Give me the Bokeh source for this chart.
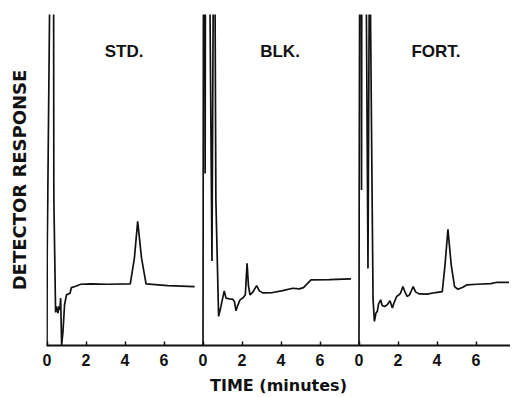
from bokeh.plotting import figure
from bokeh.models import Range1d, FixedTicker
from bokeh.core.properties import value
from bokeh.embed import file_html
from bokeh.resources import INLINE

# ---------------- data ----------------
std_time = [0.00, 0.01, 0.04, 0.13, 0.21, 0.34, 0.35, 0.44, 0.49, 0.56, 0.61, 0.66, 0.70,
            0.75, 0.82, 0.90, 1.00, 1.18, 1.25, 1.47, 1.73, 2.24, 3.10, 4.27, 4.48, 4.65,
            4.85, 5.08, 6.19, 7.57]
std_resp = [0, 29, 45, 100, 150, 100, 45, 10, 11.8, 9.8, 11.8, 10.8, 14.3,
            0, 4.3, 12.3, 15.3, 15.8, 17.5, 17.9, 18.5, 18.6, 18.5, 18.6, 26.3, 37.5,
            26.3, 18.6, 18.1, 17.8]

blk_time = [0.00, 0.01, 0.02, 0.06, 0.10, 0.11, 0.12, 0.24, 0.36, 0.46, 0.52, 0.57, 0.62,
            0.66, 0.80, 0.92, 1.01, 1.09, 1.18, 1.35, 1.52, 1.61, 1.69, 1.78, 1.90, 2.07,
            2.17, 2.26, 2.33, 2.41, 2.55, 2.75, 2.89, 3.06, 3.57, 4.09, 4.60, 4.94, 5.15,
            5.54, 6.48, 7.59]
blk_resp = [0, 52, 100, 150, 100, 52, 100, 150, 100, 25.5, 100, 150, 100,
            44, 8.8, 11.8, 14.3, 16.5, 14.3, 14.1, 14.0, 13.3, 10.5, 12.1, 13.8, 14.5,
            15.3, 24.8, 18.1, 15.3, 16.1, 18.1, 16.5, 15.9, 16.0, 16.6, 17.3, 17.1, 17.5,
            19.8, 19.9, 20.1]

fort_time = [0.00, 0.01, 0.03, 0.08, 0.12, 0.13, 0.14, 0.26, 0.38, 0.46, 0.52, 0.555, 0.59,
             0.72, 0.79, 0.87, 0.94, 1.00, 1.11, 1.19, 1.31, 1.45, 1.59, 1.71, 1.79, 1.93,
             2.05, 2.13, 2.25, 2.35, 2.47, 2.59, 2.78, 2.90, 3.07, 3.50, 3.93, 4.27, 4.41,
             4.56, 4.73, 4.90, 5.07, 5.30, 5.52, 6.06, 6.75, 7.09, 7.69]
fort_resp = [0, 47, 100, 150, 100, 47, 100, 150, 100, 23.3, 100, 150, 100,
             14, 7.3, 9.8, 10.3, 12.5, 13.8, 12.1, 11.8, 12.3, 13.5, 11.3, 12.8, 14.8,
             15.3, 15.8, 17.8, 16.3, 14.8, 15.3, 17.8, 16.2, 15.6, 15.5, 16.0, 16.3, 24.3,
             35.1, 24.3, 17.8, 17.0, 17.5, 18.3, 18.5, 18.7, 19.1, 19.1]

panel_names = ["std", "blk", "fort"]
panel_titles = ["STD.", "BLK.", "FORT."]
tick_values = [0, 2, 4, 6]
tick_labels = ["0", "2", "4", "6"]
x_title = "TIME (minutes)"
y_title = "DETECTOR RESPONSE"

# ---------------- layout ----------------
PANEL_MIN = 8.0          # minutes of axis allotted to each panel
PX_PER_MIN = 19.5
BORDER_L = 46
WIDTH = 510
FRAME_W = WIDTH - BORDER_L
X0 = -0.026
X1 = X0 + FRAME_W / PX_PER_MIN
INK = "#111111"

p = figure(width=WIDTH, height=397, output_backend="svg", toolbar_location=None,
           x_range=Range1d(X0, X1), y_range=Range1d(0, 100),
           min_border_left=BORDER_L, min_border_right=0, min_border_top=14,
           min_border_bottom=49)
p.title.visible = False
p.outline_line_color = None
p.xgrid.visible = False
p.ygrid.visible = False
p.background_fill_color = "white"
p.border_fill_color = "white"

p.extra_x_ranges = {name: Range1d(X0 - i * PANEL_MIN, X1 - i * PANEL_MIN)
                    for i, name in enumerate(panel_names)}

series = [(std_time, std_resp), (blk_time, blk_resp), (fort_time, fort_resp)]
for name, (t, r), ttl in zip(panel_names, series, panel_titles):
    p.line(t, r, x_range_name=name, line_color=INK, line_width=1.7)
    p.text(x=[3.95], y=[88.9], text=[ttl], x_range_name=name,
           text_font=value("Liberation Sans"), text_font_style="bold",
           text_font_size="17px", text_align="center", text_baseline="alphabetic",
           text_color=INK)

ax = p.xaxis[0]
ticks = [tv + i * PANEL_MIN for i in range(3) for tv in tick_values]
ax.ticker = FixedTicker(ticks=ticks)
ax.major_label_overrides = {tv + i * PANEL_MIN: lab for i in range(3)
                            for tv, lab in zip(tick_values, tick_labels)}
ax.major_tick_in = 4
ax.major_tick_out = 0
ax.major_tick_line_color = INK
ax.major_tick_line_width = 1.5
ax.minor_tick_line_color = None
ax.axis_line_color = INK
ax.axis_line_width = 1.8
ax.major_label_standoff = 8
ax.major_label_text_font = "Liberation Sans"
ax.major_label_text_font_style = "bold"
ax.major_label_text_font_size = "16px"
ax.major_label_text_color = INK
ax.axis_label = x_title
ax.axis_label_text_font = "DejaVu Sans"
ax.axis_label_text_font_style = "bold"
ax.axis_label_text_font_size = "16px"
ax.axis_label_text_color = INK
ax.axis_label_standoff = 7

ay = p.yaxis[0]
ay.ticker = FixedTicker(ticks=[])
ay.axis_line_color = None
ay.major_tick_line_color = None
ay.minor_tick_line_color = None
ay.axis_label = y_title
ay.axis_label_text_font = "DejaVu Sans"
ay.axis_label_text_font_style = "bold"
ay.axis_label_text_font_size = "18px"
ay.axis_label_text_color = INK
ay.axis_label_standoff = 17

open("out.html", "w").write(file_html(p, INLINE))
